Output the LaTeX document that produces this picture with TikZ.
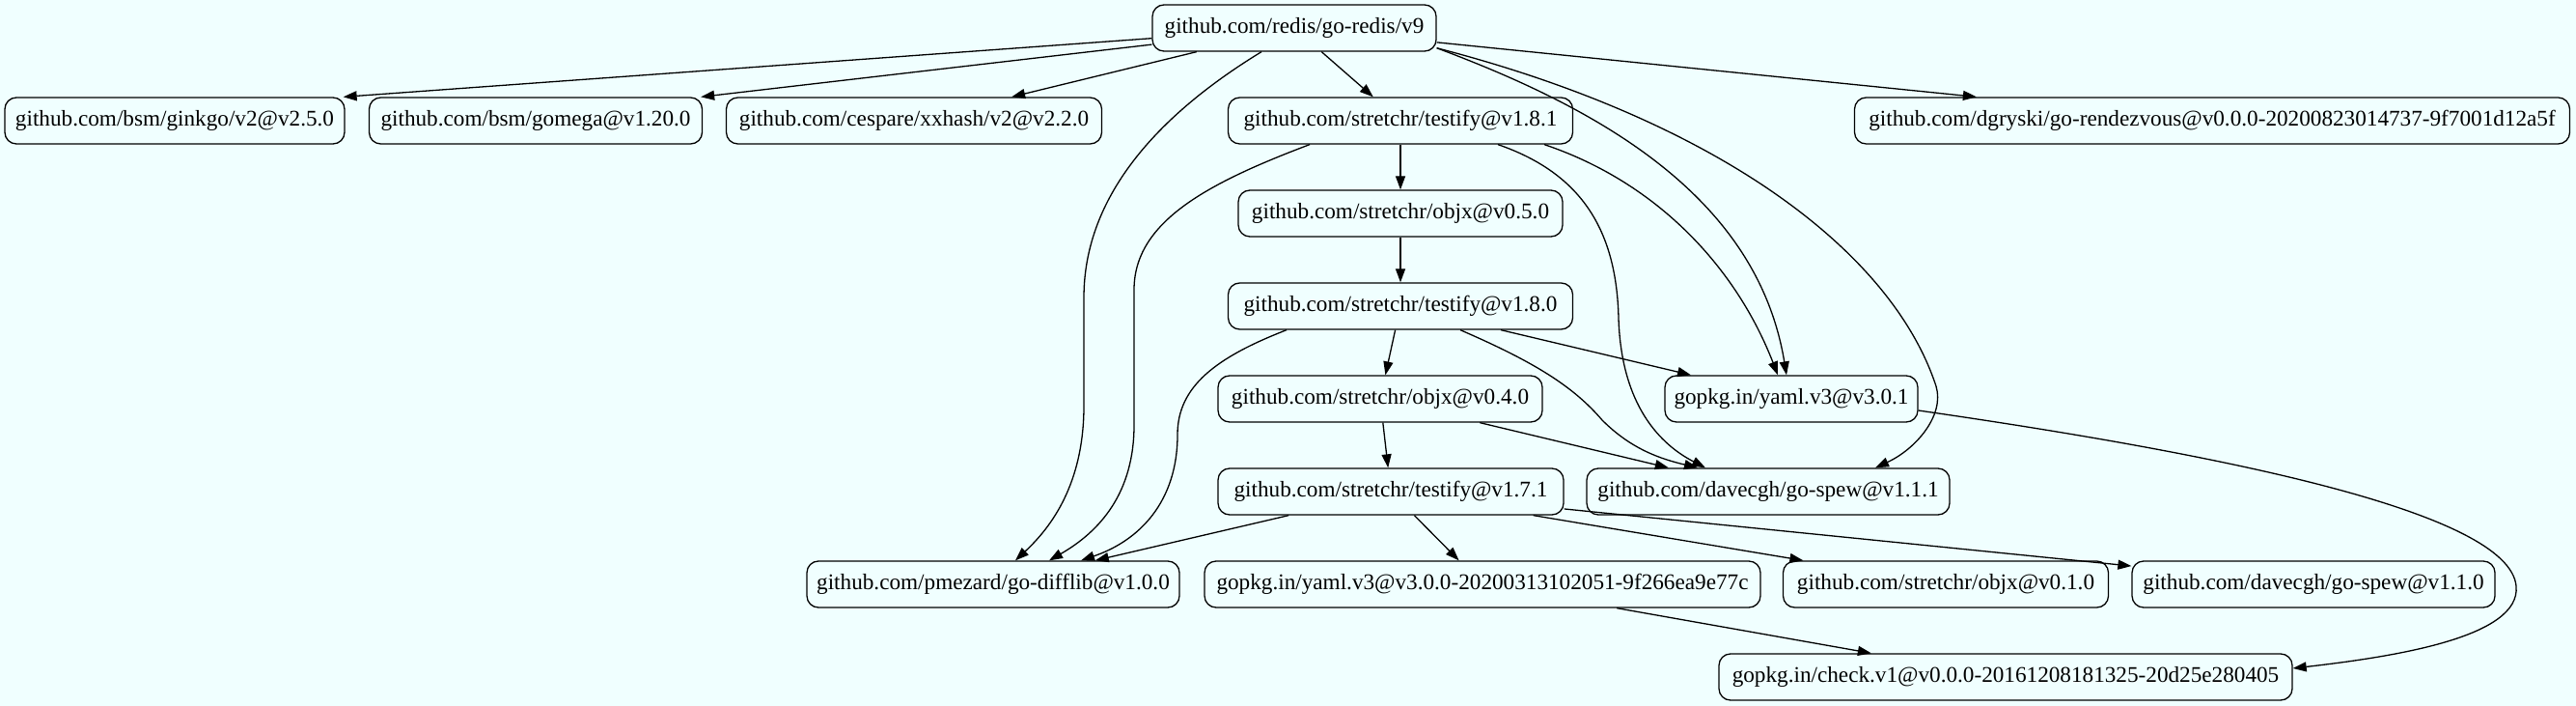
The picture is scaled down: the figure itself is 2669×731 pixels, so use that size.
\documentclass[tikz,border=0pt]{standalone}
\usepackage{fontspec}
\setmainfont{Liberation Serif}
\usetikzlibrary{arrows.meta,calc}
\definecolor{bgazure}{HTML}{F0FFFF}
\begin{document}
\begin{tikzpicture}[x=0.5pt,y=-0.5pt,
  pkg/.style={draw, line width=0.65pt, rounded corners=6pt, minimum height=24pt, inner sep=0pt, font=\fontsize{11.6}{14}\selectfont},
  dep/.style={line width=0.65pt, -{Triangle[length=7pt,width=5pt]}},
]
\fill[bgazure] (0,0) rectangle (2669,731);
\useasboundingbox (0,0) rectangle (2669,731);
% nodes
\node[pkg, minimum width=147pt]   (root)    at (1341,29)  {github.com/redis/go-redis/v9};
\node[pkg, minimum width=176pt]   (ginkgo)  at (181,125)  {github.com/bsm/ginkgo/v2@v2.5.0};
\node[pkg, minimum width=172.5pt] (gomega)  at (555,125)  {github.com/bsm/gomega@v1.20.0};
\node[pkg, minimum width=194.5pt] (xxhash)  at (947,125)  {github.com/cespare/xxhash/v2@v2.2.0};
\node[pkg, minimum width=178.5pt] (t181)    at (1451,125) {github.com/stretchr/testify@v1.8.1};
\node[pkg, minimum width=370.5pt] (rendez)  at (2292,125) {github.com/dgryski/go-rendezvous@v0.0.0-20200823014737-9f7001d12a5f};
\node[pkg, minimum width=168pt]   (o050)    at (1451,221) {github.com/stretchr/objx@v0.5.0};
\node[pkg, minimum width=178.5pt] (t180)    at (1451,317) {github.com/stretchr/testify@v1.8.0};
\node[pkg, minimum width=168pt]   (o040)    at (1430,413) {github.com/stretchr/objx@v0.4.0};
\node[pkg, minimum width=131pt]   (yaml301) at (1856,413) {gopkg.in/yaml.v3@v3.0.1};
\node[pkg, minimum width=179pt]   (t171)    at (1441,509) {github.com/stretchr/testify@v1.7.1};
\node[pkg, minimum width=188pt]   (spew111) at (1832,509) {github.com/davecgh/go-spew@v1.1.1};
\node[pkg, minimum width=193pt]   (difflib) at (1029,605) {github.com/pmezard/go-difflib@v1.0.0};
\node[pkg, minimum width=288pt]   (yaml300) at (1536,605) {gopkg.in/yaml.v3@v3.0.0-20200313102051-9f266ea9e77c};
\node[pkg, minimum width=168.5pt] (o010)    at (2016,605) {github.com/stretchr/objx@v0.1.0};
\node[pkg, minimum width=188pt]   (spew110) at (2397,605) {github.com/davecgh/go-spew@v1.1.0};
\node[pkg, minimum width=297pt]   (check)   at (2078,701) {gopkg.in/check.v1@v0.0.0-20161208181325-20d25e280405};
% straight edges
\draw[dep] (root) -- ($(ginkgo.north east)+(-2,0)$);
\draw[dep] (root) -- ($(gomega.north east)+(-2,0)$);
\draw[dep] (root) -- (xxhash);
\draw[dep] (root) -- (t181);
\draw[dep] (root) -- (rendez);
\draw[dep] (t181) -- (o050);
\draw[dep] (o050) -- (t180);
\draw[dep] (t180) -- (o040);
\draw[dep] (o040) -- (t171);
\draw[dep] (t180) -- (yaml301);
\draw[dep] (o040) -- (spew111);
\draw[dep] (t171) -- (difflib);
\draw[dep] (t171) -- (yaml300);
\draw[dep] (t171) -- (o010);
\draw[dep] (t171) -- (spew110);
\draw[dep] (yaml300) -- (check);
% curved edges
\draw[dep] ($(root.south)+(-34,0)$) .. controls (1190,125) and (1123,210) .. (1123,308)
  -- (1123,420) .. controls (1123,500) and (1090,545) .. ($(difflib.north)+(23,0)$);
\draw[dep] ($(t181.south)+(-94,0)$) .. controls (1250,190) and (1175,230) .. (1175,300)
  -- (1175,440) .. controls (1175,510) and (1140,550) .. ($(difflib.north)+(58,0)$);
\draw[dep] ($(t180.south)+(-118,0)$) .. controls (1260,370) and (1220,400) .. (1220,450)
  .. controls (1220,520) and (1180,560) .. ($(difflib.north)+(91,0)$);
\draw[dep] ($(t181.south)+(149,0)$) .. controls (1720,190) and (1800,280) .. ($(yaml301.north)+(-14,0)$);
\draw[dep] (root.-8.5) .. controls (1650,110) and (1820,200) .. ($(yaml301.north)+(-5,0)$);
\draw[dep] (root.-8.5) .. controls (1780,125) and (1960,260) .. (2006,400)
  .. controls (2015,430) and (1985,465) .. ($(spew111.north)+(111,0)$);
\draw[dep] ($(t181.south)+(101,0)$) .. controls (1640,180) and (1675,240) .. (1677,330)
  .. controls (1680,420) and (1720,460) .. ($(spew111.north)+(-65,0)$);
\draw[dep] ($(t180.south)+(62,0)$) .. controls (1590,375) and (1630,400) .. (1660,435)
  .. controls (1690,465) and (1720,475) .. ($(spew111.north)+(-73,0)$);
\draw[dep] ($(yaml301.east)+(0,12)$) .. controls (2300,470) and (2600,530) .. (2607,607)
  .. controls (2612,660) and (2480,680) .. ($(check.east)+(0,-9)$);
\end{tikzpicture}
\end{document}
